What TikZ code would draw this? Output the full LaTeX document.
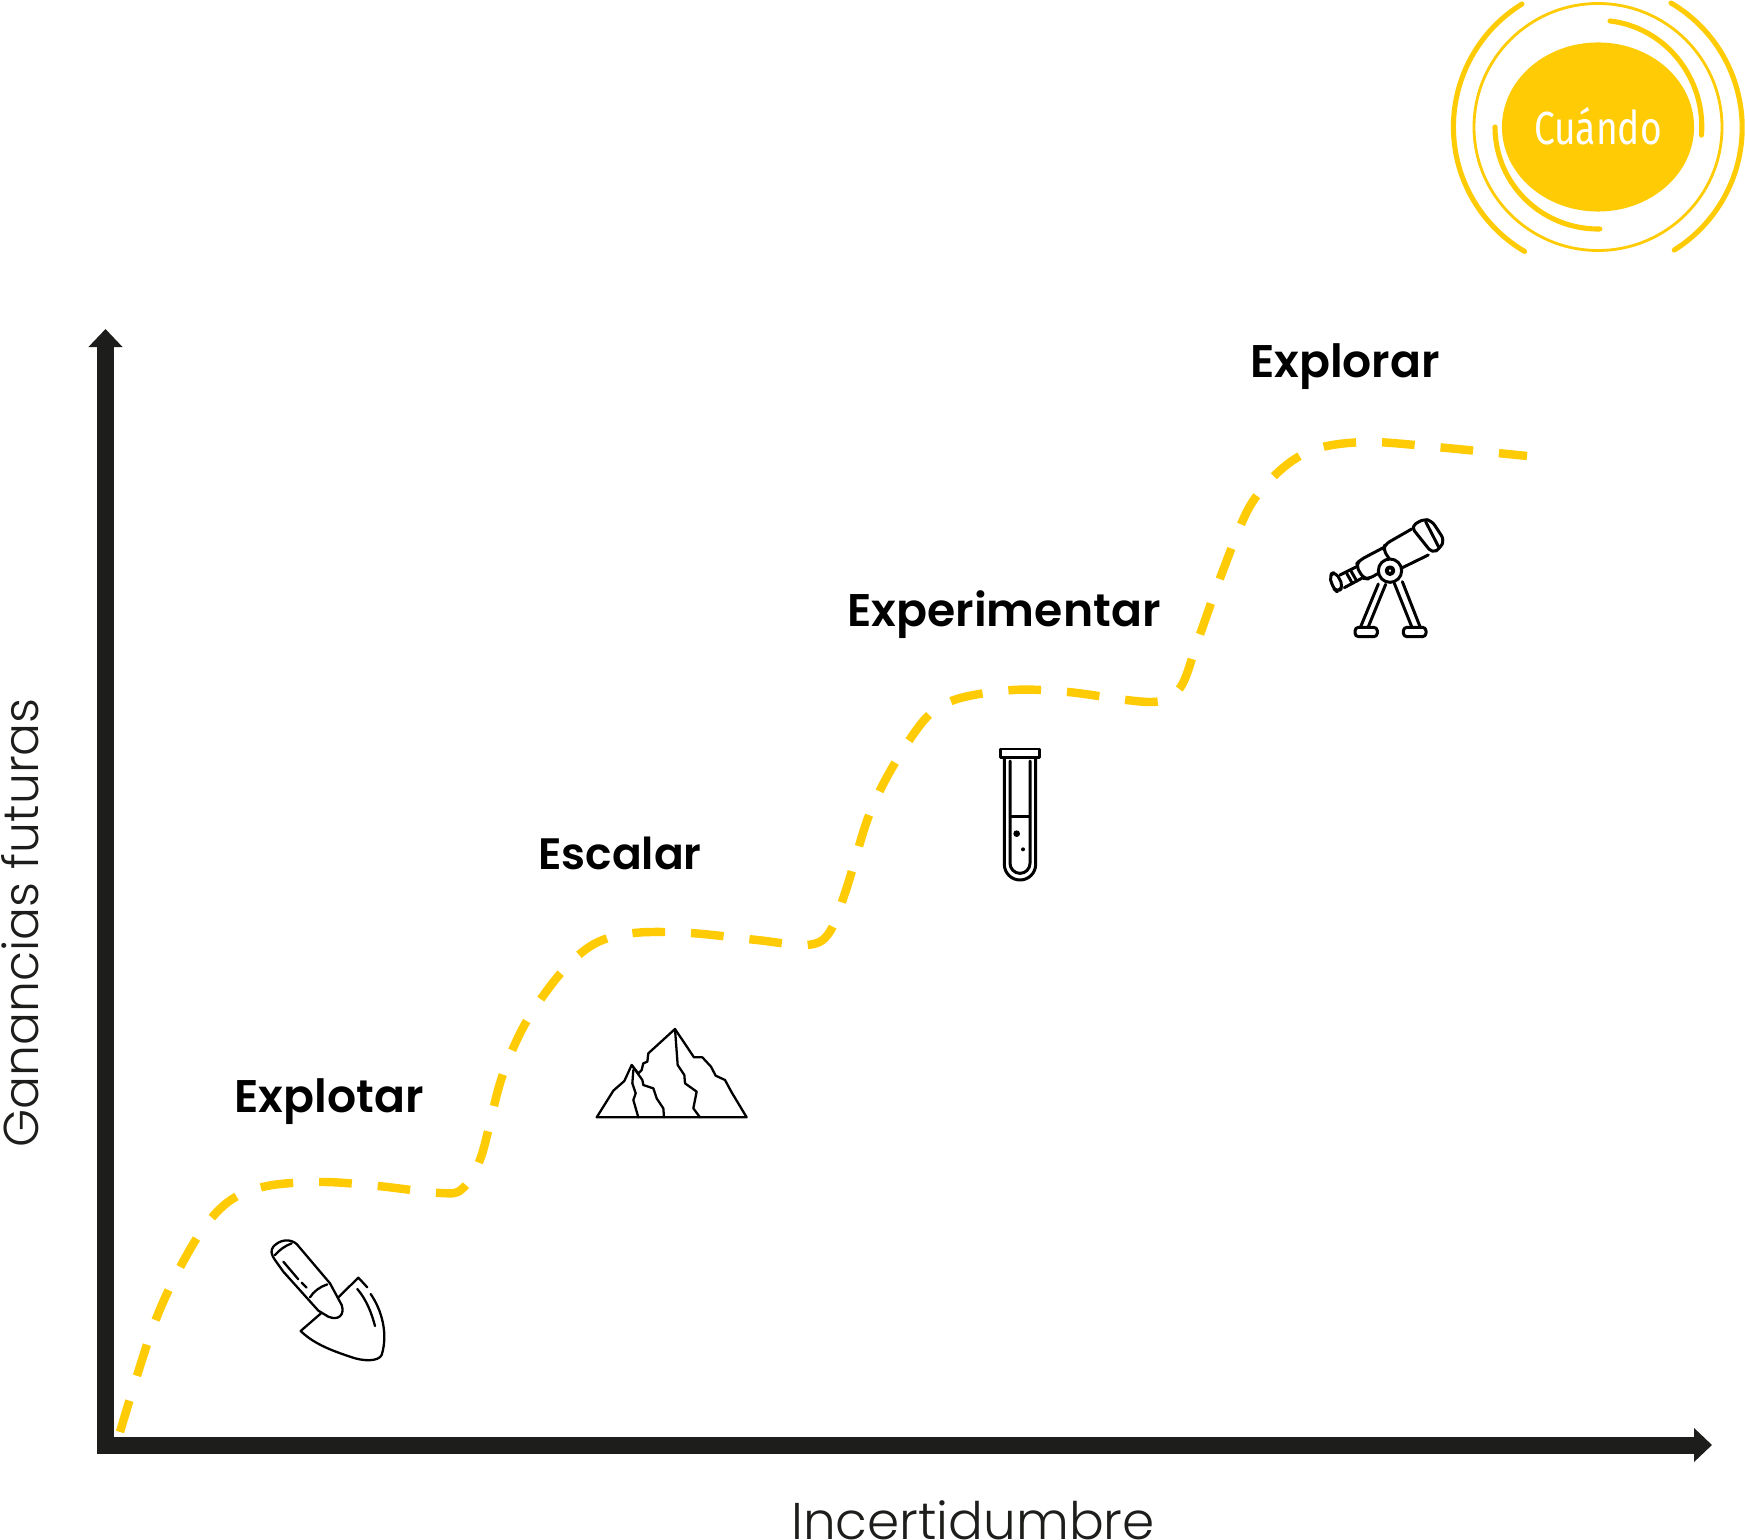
\documentclass[tikz,border=0pt]{standalone}
\usepackage{fontspec}
\setmainfont{Poppins}
\newfontfamily\boldlabel{Poppins SemiBold}
\newfontfamily\lightlabel{Poppins Light}
\newfontfamily\sunlabel[FakeStretch=0.8]{Fira Sans}
\usepackage{xcolor}
\usetikzlibrary{arrows.meta,shapes.geometric}
\definecolor{sunyellow}{HTML}{FFCB05}
\definecolor{axisblack}{HTML}{1D1D1B}

\begin{document}
\begin{tikzpicture}[x=0.01cm, y=-0.01cm,
    stage/.style={font=\boldlabel\fontsize{13}{15}\selectfont, text=black},
    axislabel/.style={text=axisblack, inner sep=0pt},
    sunarc/.style={draw=sunyellow, line width=1.45pt, line cap=round},
    iconline/.style={draw=black, line width=0.65pt, line join=round, line cap=round},
    iconscope/.style={x=0.01cm/3, y=-0.01cm/3}]
  \useasboundingbox (0,0) rectangle (1745,1540);
  % axes
  \coordinate (origin) at (105.5,1445);
  \coordinate (ytip) at (105.5,329);
  \coordinate (xtip) at (1712,1445);
  \draw[{Triangle[length=0.18cm,width=0.33cm]}-{Triangle[length=0.18cm,width=0.33cm]},
    draw=axisblack, line width=0.17cm, miter limit=10] (ytip) -- (origin) -- (xtip);
  \node[axislabel, font=\lightlabel\fontsize{14.7}{15}\selectfont] (xlabel) at (973,1520) {Incertidumbre};
  \node[axislabel, font=\lightlabel\fontsize{13.9}{15}\selectfont, rotate=90] (ylabel) at (20,923) {Ganancias futuras};
  % sun badge
  \node[ellipse, fill=sunyellow, minimum width=1.92cm, minimum height=1.69cm, inner sep=0pt] (sun) at (1598,127) {};
  \node[font=\sunlabel\fontsize{13.2}{15}\selectfont, text=white] (sunlabel) at (1598,126) {Cuándo};
  \draw[draw=sunyellow, line width=0.8pt] (sun.center) circle[x radius=124, y radius=123.5];
  \draw[sunarc] (1522,4) arc[start angle=-121.7, end angle=-239.5, radius=144.5];
  \draw[sunarc] (1671,3) arc[start angle=-59.5, end angle=58, radius=144.5];
  \draw[sunarc] (1610,21) arc[start angle=-83.5, end angle=4.5, x radius=103.5, y radius=106.5];
  \draw[sunarc] (1495,127) arc[start angle=180, end angle=89, x radius=103, y radius=102];
  % path
  \draw[sunyellow, line width=2.4pt, dash pattern=on 9.3pt off 7.39pt] plot[smooth, tension=0.55] coordinates {
    (120,1432) (156,1319) (195,1241) (228,1202) (267,1186) (323,1182) (378,1186) (440,1193) (462,1189)
    (481,1157) (501,1080) (525,1024) (560,974) (594,944) (634,933) (690,933) (757,940) (807,945) (829,933)
    (846,890) (868,818) (892,768) (926,718) (957,699) (1013,690) (1068,692) (1152,702) (1180,688)
    (1198,640) (1222,573) (1250,506) (1284,467) (1319,448) (1369,442) (1436,447) (1527,456)};
  \node[stage] (explotar) at (329,1102) {Explotar};
  \node[stage, font=\boldlabel\fontsize{12.5}{15}\selectfont] (escalar) at (620,853) {Escalar};
  \node[stage] (experimentar) at (1004,615) {Experimentar};
  \node[stage] (explorar) at (1345,367) {Explorar};
  % trowel
  \begin{scope}[shift={(250,1220)}, iconscope]
    \draw[iconline] (70,80) .. controls (90,58) and (120,55) .. (140,72) -- (240,190) -- (275,255)
      .. controls (285,285) and (265,303) .. (235,290) -- (205,272) -- (100,155) -- (75,120) .. controls (62,100) and (62,92) .. (70,80);
    \draw[iconline] (75,105) .. controls (90,88) and (105,78) .. (125,70);
    \draw[iconline] (180,232) .. controls (190,215) and (210,200) .. (232,193);
    \draw[iconline] (100,125) -- (145,178);
    \draw[iconline] (155,188) -- (170,203);
    \draw[iconline] (265,232) -- (325,173) -- (352,202);
    \draw[iconline] (362,222) .. controls (395,270) and (415,340) .. (395,405)
      .. controls (385,425) and (340,425) .. (300,410) .. controls (240,390) and (190,370) .. (152,333) -- (213,280);
    \draw[iconline] (322,207) .. controls (350,240) and (365,280) .. (375,318);
  \end{scope}
  % mountain
  \begin{scope}[shift={(585,1015)}, iconscope]
    \draw[iconline] (35,307) -- (485,307) -- (440,232) -- (420,195) -- (392,182) -- (378,155) -- (352,127)
      -- (327,127) -- (270,42) -- (190,115) -- (187,140) -- (175,145) -- (170,165) -- (160,175) -- (140,150)
      -- (118,198) -- (85,227) -- cycle;
    \draw[iconline] (270,42) -- (278,150) -- (298,180) -- (300,205) -- (335,230) -- (325,280) -- (345,307);
    \draw[iconline] (140,150) -- (172,195) -- (175,210) -- (205,220) -- (215,250) -- (235,280) -- (237,307);
    \draw[iconline] (145,165) -- (142,205) -- (152,235) -- (145,255) -- (160,307);
  \end{scope}
  % test tube
  \begin{scope}[shift={(980,735)}, iconscope, iconline/.append style={line width=0.85pt}]
    \draw[iconline] (62,42) rectangle (178,68);
    \draw[iconline] (73,68) -- (73,388) arc[start angle=180, end angle=0, radius=47] -- (167,68);
    \draw[iconline] (90,78) -- (90,385) arc[start angle=180, end angle=0, radius=30] -- (150,78);
    \draw[iconline] (92,245) -- (148,245);
    \fill (110,296) circle[radius=10];
    \fill (129,343) circle[radius=6];
  \end{scope}
  % telescope
  \begin{scope}[shift={(1315,505)}, iconscope, iconline/.append style={line width=0.85pt}]
    \draw[iconline, rounded corners=1.5pt] (288,65) -- (325,42) -- (350,47) -- (388,105) -- (375,130) -- (352,145) -- cycle;
    \draw[iconline] (332,50) -- (372,128);
    \draw[iconline, rounded corners=1.5pt] (290,72) -- (210,118) -- (205,135) -- (222,160);
    \draw[iconline] (340,150) -- (258,190);
    \draw[iconline, rounded corners=1.5pt] (205,128) -- (135,165) -- (122,180) -- (145,220) -- (160,222) -- (190,205);
    \draw[iconline] (125,185) -- (75,210);
    \draw[iconline] (140,220) -- (88,248);
    \draw[iconline] (95,205) -- (112,235);
    \draw[iconline] (108,198) -- (125,228);
    \draw[iconline, rounded corners=1.5pt] (42,210) -- (62,200) -- (85,245) -- (68,262) -- (55,250) -- cycle;
    \draw[iconline, fill=white] (225,197) circle[radius=35];
    \draw[iconline, line width=1.1pt] (225,197) circle[radius=10];
    \draw[iconline] (190,237) -- (137,365);
    \draw[iconline] (212,238) -- (160,365);
    \draw[iconline] (238,235) -- (290,365);
    \draw[iconline] (262,230) -- (315,365);
    \draw[iconline, rounded corners=1pt] (120,367) rectangle (187,395);
    \draw[iconline, rounded corners=1pt] (265,367) rectangle (333,395);
  \end{scope}
\end{tikzpicture}
\end{document}
